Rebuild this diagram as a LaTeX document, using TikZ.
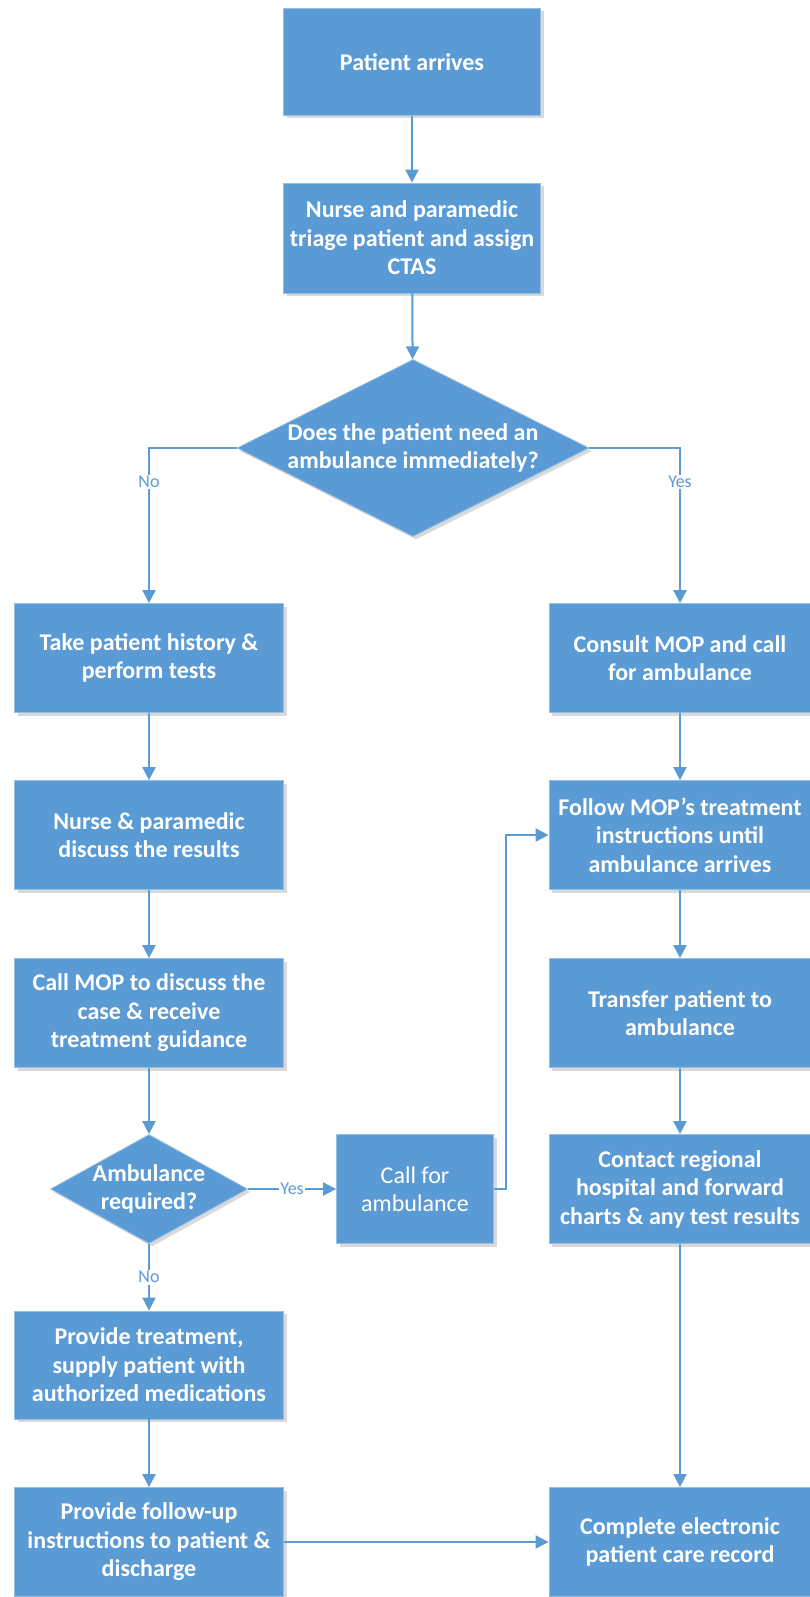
\documentclass[tikz,border=0pt]{standalone}
\usepackage{fontspec}
\setmainfont{Carlito}
\usetikzlibrary{shapes.geometric,arrows.meta,shadows}
\definecolor{flowblue}{HTML}{5B9BD5}
\tikzset{
  stepbox/.style={rectangle,fill=flowblue,draw=flowblue!65!white,line width=0.8pt,
    text=white,align=center,inner sep=0pt,
    font=\bfseries\fontsize{24}{28.5}\selectfont,
    drop shadow={shadow xshift=3pt,shadow yshift=-3pt,opacity=0.25,fill=black!60}},
  colbox/.style={stepbox,minimum width=269pt,minimum height=109pt},
  rightbox/.style={stepbox,minimum width=262pt,minimum height=109pt},
  decision/.style={stepbox,diamond},
  flow/.style={draw=flowblue,line width=2pt,-{Triangle[length=13pt,width=13pt]}},
  answer/.style={fill=white,text=flowblue,inner sep=1.5pt,
    font=\fontsize{18}{21}\selectfont}
}
\begin{document}
\begin{tikzpicture}[x=1pt,y=-1pt]
  \useasboundingbox (0,0) rectangle (809,1597);
  \node[stepbox,minimum width=257pt,minimum height=107pt] (arrive) at (412,62) {Patient arrives};
  \node[stepbox,minimum width=257pt,minimum height=110pt] (triage) at (412,238)
    {Nurse and paramedic\\triage patient and assign\\CTAS};
  \node[decision,aspect=2,inner sep=-10pt,minimum width=352pt,minimum height=177pt] (urgent) at (413,448)
    {Does the patient need an\\ambulance immediately?};
  \node[colbox] (history) at (149,658) {Take patient history \&\\perform tests};
  \node[rightbox] (consult) at (680,658) {Consult MOP and call\\for ambulance};
  \node[colbox] (discuss) at (149,835) {Nurse \& paramedic\\discuss the results};
  \node[rightbox] (follow) at (680,835)
    {Follow MOP’s treatment\\instructions until\\ambulance arrives};
  \node[colbox] (callmop) at (149,1013)
    {Call MOP to discuss the\\case \& receive\\treatment guidance};
  \node[rightbox] (transfer) at (680,1013) {Transfer patient to\\ambulance};
  \node[decision,aspect=1.8,inner sep=-8pt,minimum width=197pt,minimum height=109pt] (needamb) at (149,1189)
    {Ambulance\\required?};
  \node[stepbox,minimum width=157pt,minimum height=109pt,font=\fontsize{24}{28.5}\selectfont] (callamb) at (415,1189)
    {Call for\\ambulance};
  \node[rightbox] (contact) at (680,1189)
    {Contact regional\\hospital and forward\\charts \& any test results};
  \node[colbox,minimum height=108pt] (treat) at (149,1365)
    {Provide treatment,\\supply patient with\\authorized medications};
  \node[colbox] (discharge) at (149,1542)
    {Provide follow-up\\instructions to patient \&\\discharge};
  \node[rightbox] (record) at (680,1542) {Complete electronic\\patient care record};
  \coordinate (jn) at (506,835);

  \draw[flow] (arrive) -- (triage);
  \draw[flow] (triage) -- (urgent);
  \draw[flow] (urgent.west) -| node[answer,pos=0.61] {No} (history.north);
  \draw[flow] (urgent.east) -| node[answer,pos=0.61] {Yes} (consult.north);
  \draw[flow] (history) -- (discuss);
  \draw[flow] (discuss) -- (callmop);
  \draw[flow] (callmop) -- (needamb);
  \draw[flow] (needamb) -- node[answer] {No} (treat);
  \draw[flow] (needamb) -- node[answer] {Yes} (callamb);
  \draw[flow] (callamb.east) -| (jn) -- (follow.west);
  \draw[flow] (consult) -- (follow);
  \draw[flow] (follow) -- (transfer);
  \draw[flow] (transfer) -- (contact);
  \draw[flow] (contact) -- (record);
  \draw[flow] (treat) -- (discharge);
  \draw[flow] (discharge) -- (record);
\end{tikzpicture}
\end{document}
